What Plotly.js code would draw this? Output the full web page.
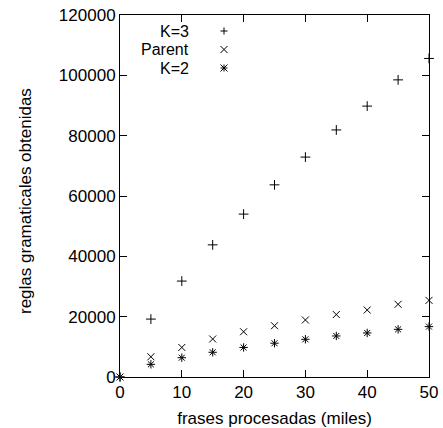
<!DOCTYPE html>
<html>
<head>
<meta charset="utf-8">
<script src="https://cdn.plot.ly/plotly-3.0.1.min.js"></script>
<style>html,body{margin:0;padding:0;background:#fff;}#chart{width:443px;height:428px;}</style>
</head>
<body>
<div id="chart"></div>
<script>
const frases = [0, 5, 10, 15, 20, 25, 30, 35, 40, 45, 50];
const k3 = [0, 19200, 31800, 43800, 54000, 63700, 72900, 81900, 89800, 98500, 105600];
const parent = [0, 6700, 9800, 12600, 15000, 17000, 18900, 20700, 22200, 24100, 25400];
const k2 = [0, 4200, 6400, 8200, 9800, 11200, 12500, 13600, 14600, 15800, 16700];
const seriesNames = ["K=3", "Parent", "K=2"];
const xTicks = [0, 10, 20, 30, 40, 50];
const yTicks = [0, 20000, 40000, 60000, 80000, 100000, 120000];

const W = 443, H = 428;
const M = {l: 120, r: 14, t: 15, b: 51};
const PW = W - M.l - M.r, PH = H - M.t - M.b;
const FONT = "Liberation Sans, Arial, sans-serif";

function mk(x, y, sym) {
  return {
    x: x, y: y, type: "scatter", mode: "markers", showlegend: false, cliponaxis: false,
    marker: {symbol: sym, size: 7, color: "#000", line: {color: "#000", width: 1}}
  };
}
const data = [mk(frases, k3, "cross-thin"), mk(frases, parent, "x-thin"), mk(frases, k2, "asterisk")];

// legend glyphs (paper coords from pixels)
const px = v => (v - M.l) / PW;
const py = v => (H - M.b - v) / PH;
function seg(x0, y0, x1, y1) {
  return {type: "line", xref: "paper", yref: "paper", x0: px(x0), y0: py(y0), x1: px(x1), y1: py(y1),
          line: {color: "#000", width: 1}};
}
function glyph(cx, cy, kind) {
  const s = 3.5;
  const out = [];
  if (kind === "plus" || kind === "star") { out.push(seg(cx - s, cy, cx + s, cy)); out.push(seg(cx, cy - s, cx, cy + s)); }
  if (kind === "x" || kind === "star") { out.push(seg(cx - s, cy - s, cx + s, cy + s)); out.push(seg(cx - s, cy + s, cx + s, cy - s)); }
  return out;
}
const legY = [31, 49.5, 68];
const kinds = ["plus", "x", "star"];
let shapes = [];
const annotations = [];
for (let i = 0; i < 3; i++) {
  shapes = shapes.concat(glyph(224, legY[i], kinds[i]));
  annotations.push({text: seriesNames[i], xref: "paper", yref: "paper", x: px(191), y: py(legY[i]),
    xanchor: "right", yanchor: "middle", showarrow: false, font: {family: FONT, size: 16, color: "#000"}});
}
annotations.push({text: "reglas gramaticales obtenidas", xref: "paper", yref: "paper", x: px(25), y: py(201),
  xanchor: "center", yanchor: "middle", textangle: -90, showarrow: false, font: {family: FONT, size: 17, color: "#000"}});

const axisCommon = {
  showgrid: false, zeroline: false, showline: true, mirror: "ticks", linecolor: "#000", linewidth: 1,
  ticks: "inside", ticklen: 7, tickcolor: "#000", tickwidth: 1,
  tickfont: {family: FONT, size: 17, color: "#000"}
};
const layout = {
  width: W, height: H, margin: M, paper_bgcolor: "#fff", plot_bgcolor: "#fff",
  xaxis: Object.assign({}, axisCommon, {range: [0, 50], tickvals: xTicks, ticktext: xTicks.map(String),
    title: {text: "frases procesadas (miles)", font: {family: FONT, size: 17, color: "#000"}, standoff: 12}}),
  yaxis: Object.assign({}, axisCommon, {range: [0, 120000], tickvals: yTicks, ticktext: yTicks.map(String)}),
  shapes: shapes, annotations: annotations, showlegend: false
};
Plotly.newPlot("chart", data, layout, {staticPlot: true, displayModeBar: false});
</script>
</body>
</html>
